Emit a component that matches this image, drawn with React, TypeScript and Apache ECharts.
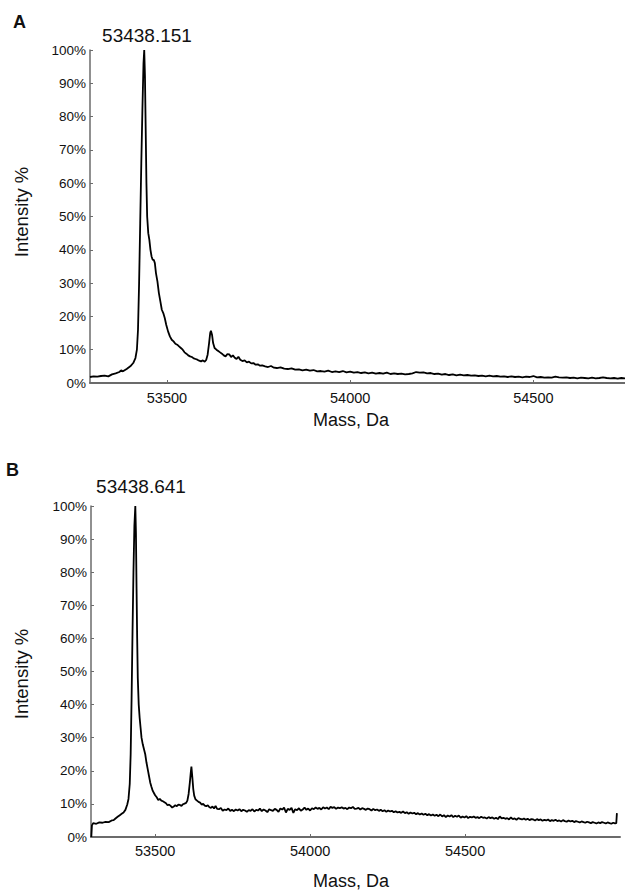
import React, { useEffect, useRef } from "react";
import * as echarts from "echarts";

// Panel A: [mass (Da), intensity (%)]
const spectrumA: number[][] = [
  [53290, 1.8], [53300, 2.0], [53310, 1.9], [53320, 2.1], [53330, 2.2], [53340, 2.0], [53350, 2.6],
  [53360, 2.9], [53370, 3.3], [53375, 3.8], [53380, 3.5], [53390, 4.2], [53400, 5.0], [53408, 6.0],
  [53414, 7.5], [53418, 10], [53421, 16], [53424, 30], [53427, 48], [53430, 66], [53433, 82],
  [53436, 96], [53438, 100], [53440, 92], [53442, 76], [53444, 60], [53446, 50], [53449, 45],
  [53452, 43], [53455, 40], [53458, 38], [53461, 37], [53464, 37], [53467, 36], [53470, 33],
  [53474, 30.5], [53478, 27], [53482, 24.5], [53486, 22], [53490, 21], [53494, 19.5], [53498, 17.5],
  [53503, 15.5], [53508, 14], [53513, 13], [53518, 12.5], [53523, 11.8], [53528, 11.5], [53533, 11],
  [53538, 10.5], [53543, 10], [53548, 9.2], [53553, 8.8], [53558, 8.3], [53563, 8.0], [53568, 7.8],
  [53573, 7.4], [53578, 7.2], [53583, 7.0], [53588, 6.7], [53593, 6.5], [53598, 6.8], [53603, 6.4],
  [53607, 6.9], [53611, 8.5], [53615, 12], [53618, 15], [53620, 15.7], [53623, 14.5], [53626, 12],
  [53630, 10.5], [53635, 10], [53640, 9.6], [53645, 9.2], [53650, 8.8], [53655, 8.3], [53660, 8.0],
  [53665, 8.7], [53670, 8.6], [53675, 7.8], [53680, 8.3], [53685, 7.6], [53690, 7.2], [53695, 7.9],
  [53700, 7.0], [53706, 6.6], [53712, 6.8], [53718, 6.2], [53724, 6.4], [53730, 5.9], [53736, 6.0],
  [53742, 5.5], [53748, 5.6], [53754, 5.2], [53760, 5.3], [53768, 5.0], [53776, 4.8], [53784, 5.1],
  [53792, 4.6], [53800, 4.5], [53810, 4.7], [53820, 4.3], [53830, 4.2], [53840, 4.4], [53850, 4.0],
  [53860, 4.1], [53870, 3.8], [53880, 4.0], [53890, 3.7], [53900, 3.9], [53910, 3.5], [53920, 3.6],
  [53930, 3.4], [53940, 3.7], [53950, 3.3], [53960, 3.5], [53970, 3.3], [53980, 3.6], [53990, 3.2],
  [54000, 3.4], [54010, 3.1], [54020, 3.3], [54030, 3.0], [54040, 3.2], [54050, 2.9], [54060, 3.1],
  [54070, 2.8], [54080, 3.0], [54090, 2.8], [54100, 3.1], [54110, 2.7], [54120, 2.9], [54130, 2.7],
  [54140, 2.8], [54150, 2.6], [54160, 2.7], [54170, 2.9], [54180, 3.3], [54190, 3.1], [54200, 3.2],
  [54210, 2.9], [54220, 3.0], [54230, 2.7], [54240, 2.8], [54250, 2.5], [54260, 2.7], [54270, 2.4],
  [54280, 2.6], [54290, 2.3], [54300, 2.5], [54310, 2.3], [54320, 2.4], [54330, 2.2], [54340, 2.3],
  [54350, 2.1], [54360, 2.2], [54370, 2.0], [54380, 2.2], [54390, 2.0], [54400, 2.1], [54410, 1.9],
  [54420, 2.0], [54430, 1.8], [54440, 2.0], [54450, 1.8], [54460, 1.9], [54470, 1.7], [54480, 1.9],
  [54490, 1.8], [54500, 2.1], [54510, 1.7], [54520, 1.8], [54530, 1.6], [54540, 1.7], [54550, 1.6],
  [54560, 1.9], [54570, 1.7], [54580, 1.6], [54590, 1.7], [54600, 1.5], [54610, 1.6], [54620, 1.4],
  [54630, 1.6], [54640, 1.5], [54650, 1.4], [54660, 1.6], [54670, 1.4], [54680, 1.5], [54690, 1.7],
  [54700, 1.5], [54710, 1.4], [54720, 1.5], [54730, 1.3], [54740, 1.5], [54750, 1.4],
];

// Panel B: [mass (Da), intensity (%)]
const spectrumB: number[][] = [
  [53294, 0], [53296, 3.5], [53300, 4.2], [53310, 4.0], [53320, 4.4], [53330, 4.3], [53340, 4.6],
  [53350, 4.5], [53360, 5.0], [53366, 5.1], [53372, 5.6], [53380, 6.2], [53386, 6.6], [53392, 7.0],
  [53398, 7.4], [53404, 8.2], [53410, 9.8], [53414, 11.5], [53418, 16], [53421, 25], [53424, 42],
  [53427, 62], [53430, 80], [53433, 94], [53436, 100], [53438, 92], [53440, 75], [53442, 60],
  [53444, 48], [53447, 40], [53450, 36], [53453, 33], [53456, 30], [53460, 28], [53464, 26.5],
  [53468, 25], [53472, 22.5], [53476, 20.5], [53480, 18.5], [53484, 16.5], [53488, 15.2], [53492, 14],
  [53496, 13.3], [53500, 12.6], [53505, 12], [53510, 11.2], [53515, 11.5], [53520, 11], [53525, 10.8],
  [53530, 10.5], [53535, 10.2], [53540, 9.6], [53545, 9.8], [53550, 9.4], [53555, 8.9], [53560, 9.2],
  [53565, 9.6], [53570, 9.3], [53575, 9.8], [53580, 9.7], [53585, 9.4], [53590, 9.9], [53595, 10.1],
  [53600, 10.3], [53604, 11.0], [53608, 13], [53612, 16.5], [53615, 19.5], [53617, 21.3], [53620, 18],
  [53623, 14.5], [53626, 12.5], [53630, 11.4], [53635, 11.0], [53640, 10.6], [53645, 10.4], [53650, 9.8],
  [53655, 10.0], [53660, 9.5], [53665, 9.3], [53670, 9.6], [53675, 9.0], [53680, 8.8], [53685, 9.2],
  [53690, 8.6], [53695, 9.4], [53700, 8.5], [53706, 8.4], [53712, 8.8], [53718, 7.9], [53724, 8.3],
  [53730, 8.1], [53736, 8.6], [53742, 7.9], [53748, 8.2], [53754, 7.8], [53760, 8.3], [53766, 8.0],
  [53772, 8.4], [53778, 7.8], [53784, 8.2], [53790, 8.0], [53796, 7.6], [53802, 8.1], [53808, 7.9],
  [53814, 8.4], [53820, 7.7], [53826, 8.2], [53832, 8.0], [53838, 8.6], [53844, 7.8], [53850, 8.3],
  [53856, 8.0], [53862, 7.5], [53868, 8.4], [53874, 8.1], [53880, 7.9], [53886, 8.5], [53892, 8.2],
  [53898, 7.6], [53904, 8.6], [53910, 8.3], [53916, 8.9], [53922, 7.4], [53928, 8.5], [53934, 8.2],
  [53940, 8.8], [53946, 7.3], [53952, 8.4], [53958, 8.1], [53964, 8.7], [53970, 7.9], [53976, 8.3],
  [53982, 8.9], [53988, 8.2], [53994, 8.6], [54000, 8.0], [54006, 8.7], [54012, 8.4], [54018, 8.9],
  [54024, 8.5], [54030, 8.8], [54036, 8.3], [54042, 9.0], [54048, 8.6], [54054, 8.9], [54060, 8.4],
  [54066, 9.1], [54072, 8.8], [54078, 9.0], [54084, 8.5], [54090, 8.9], [54096, 8.7], [54102, 9.0],
  [54108, 8.6], [54114, 8.8], [54120, 8.4], [54126, 8.9], [54132, 8.7], [54138, 9.1], [54144, 8.5],
  [54150, 8.6], [54156, 8.8], [54162, 8.3], [54168, 8.7], [54174, 8.5], [54180, 8.2], [54186, 8.6],
  [54192, 8.4], [54198, 8.0], [54204, 8.5], [54210, 8.1], [54216, 8.3], [54222, 7.9], [54228, 8.2],
  [54234, 7.8], [54240, 8.1], [54246, 7.6], [54252, 8.0], [54258, 7.7], [54264, 7.9], [54270, 7.5],
  [54276, 7.8], [54282, 7.4], [54288, 7.6], [54294, 7.3], [54300, 7.7], [54306, 7.2], [54312, 7.5],
  [54318, 7.0], [54324, 7.4], [54330, 7.1], [54336, 7.3], [54342, 6.9], [54348, 7.2], [54354, 6.8],
  [54360, 7.1], [54366, 6.7], [54372, 7.0], [54378, 6.6], [54384, 6.9], [54390, 6.5], [54396, 6.8],
  [54402, 6.4], [54408, 6.7], [54414, 6.3], [54420, 6.8], [54426, 6.2], [54432, 6.6], [54438, 6.0],
  [54444, 6.5], [54450, 6.2], [54456, 6.6], [54462, 6.0], [54468, 6.4], [54474, 6.1], [54480, 6.5],
  [54486, 5.8], [54492, 6.2], [54498, 5.9], [54504, 6.3], [54510, 5.7], [54516, 6.1], [54522, 5.9],
  [54528, 6.2], [54534, 5.8], [54540, 6.0], [54546, 5.7], [54552, 6.1], [54558, 5.8], [54564, 5.9],
  [54570, 5.6], [54576, 6.0], [54582, 5.7], [54588, 5.9], [54594, 5.5], [54600, 5.8], [54606, 5.4],
  [54612, 6.2], [54618, 5.6], [54624, 5.8], [54630, 5.5], [54636, 5.7], [54642, 5.3], [54648, 5.9],
  [54654, 5.4], [54660, 5.6], [54666, 5.2], [54672, 5.7], [54678, 5.5], [54684, 5.3], [54690, 5.6],
  [54696, 5.2], [54702, 5.5], [54708, 5.1], [54714, 5.4], [54720, 5.3], [54726, 5.0], [54732, 5.4],
  [54738, 5.1], [54744, 5.3], [54750, 4.9], [54756, 5.2], [54762, 5.0], [54768, 5.3], [54774, 4.8],
  [54780, 5.1], [54786, 4.9], [54792, 5.2], [54798, 4.8], [54804, 5.0], [54810, 4.7], [54816, 5.1],
  [54822, 4.8], [54828, 4.6], [54834, 5.0], [54840, 4.7], [54846, 4.9], [54852, 4.5], [54858, 4.8],
  [54864, 4.6], [54870, 4.4], [54876, 4.7], [54882, 4.5], [54888, 4.3], [54894, 4.6], [54900, 4.4],
  [54906, 4.2], [54912, 4.5], [54918, 4.3], [54924, 4.1], [54930, 4.4], [54936, 4.2], [54942, 4.5],
  [54948, 4.3], [54954, 4.1], [54960, 4.4], [54966, 4.2], [54972, 4.0], [54978, 4.3], [54984, 4.1],
  [54988, 4.2], [54990, 7.2],
];

const massTicks = [53500, 54000, 54500];
const panelLetters = ["A", "B"];
const peakLabels = ["53438.151", "53438.641"];
const xAxisTitle = "Mass, Da";
const yAxisTitle = "Intensity %";
const xRangeA = [53290, 54750];
const xRangeB = [53293, 55000];

const FONT = "Liberation Sans, Arial, sans-serif";

export default function App() {
  const ref = useRef<HTMLDivElement>(null);
  useEffect(() => {
    if (!ref.current) return;
    const chart = echarts.init(ref.current, null, { renderer: "svg" });

    const mkX = (idx: number, range: number[], margin: number) => ({
      type: "value",
      gridIndex: idx,
      min: range[0],
      max: range[1],
      axisLine: { show: true, lineStyle: { color: "#6b6b6b", width: 2 } },
      axisTick: { show: true, inside: true, length: 3, customValues: massTicks, lineStyle: { color: "#6b6b6b" } },
      axisLabel: {
        customValues: massTicks,
        color: "#111",
        fontFamily: FONT,
        fontSize: 14.5,
        margin,
        formatter: (v: number) => String(v),
      },
      splitLine: { show: false },
    });
    const mkY = (idx: number) => ({
      type: "value",
      gridIndex: idx,
      min: 0,
      max: 100,
      interval: 10,
      axisLine: { show: true, lineStyle: { color: "#6b6b6b", width: 1.5 } },
      axisTick: { show: true, inside: true, length: 3, lineStyle: { color: "#6b6b6b" } },
      axisLabel: {
        color: "#111",
        fontFamily: FONT,
        fontSize: 13.5,
        margin: 4,
        formatter: "{value}%",
      },
      splitLine: { show: false },
    });

    const textStyle = (size: number, weight: string = "normal") => ({
      fill: "#111",
      font: `${weight} ${size}px ${FONT}`,
    });

    chart.setOption({
      animation: false,
      backgroundColor: "#ffffff",
      grid: [
        { left: 90, top: 50, width: 535, height: 333 },
        { left: 91, top: 506, width: 529, height: 331 },
      ],
      xAxis: [mkX(0, xRangeA, 7), mkX(1, xRangeB, 6)],
      yAxis: [mkY(0), mkY(1)],
      series: [
        {
          type: "line",
          xAxisIndex: 0,
          yAxisIndex: 0,
          data: spectrumA,
          showSymbol: false,
          lineStyle: { color: "#000", width: 1.8 },
        },
        {
          type: "line",
          xAxisIndex: 1,
          yAxisIndex: 1,
          data: spectrumB,
          showSymbol: false,
          lineStyle: { color: "#000", width: 1.8 },
        },
      ],
      graphic: [
        { type: "text", left: 13, top: 13, style: { text: panelLetters[0], ...textStyle(18, "bold") } },
        { type: "text", left: 6, top: 461, style: { text: panelLetters[1], ...textStyle(18, "bold") } },
        { type: "text", x: 147, y: 35, style: { text: peakLabels[0], align: "center", verticalAlign: "middle", ...textStyle(19) } },
        { type: "text", x: 141, y: 486, style: { text: peakLabels[1], align: "center", verticalAlign: "middle", ...textStyle(19) } },
        { type: "text", x: 351, y: 420, style: { text: xAxisTitle, align: "center", verticalAlign: "middle", ...textStyle(18) } },
        { type: "text", x: 351, y: 881, style: { text: xAxisTitle, align: "center", verticalAlign: "middle", ...textStyle(18) } },
        { type: "text", x: 21, y: 212, rotation: Math.PI / 2, style: { text: yAxisTitle, align: "center", verticalAlign: "middle", ...textStyle(18.5) } },
        { type: "text", x: 21, y: 674, rotation: Math.PI / 2, style: { text: yAxisTitle, align: "center", verticalAlign: "middle", ...textStyle(18.5) } },
      ],
    });
    return () => chart.dispose();
  }, []);

  return (
    <div
      ref={ref}
      style={{ position: "fixed", left: 0, top: 0, width: 625, height: 892, background: "#fff" }}
    />
  );
}
